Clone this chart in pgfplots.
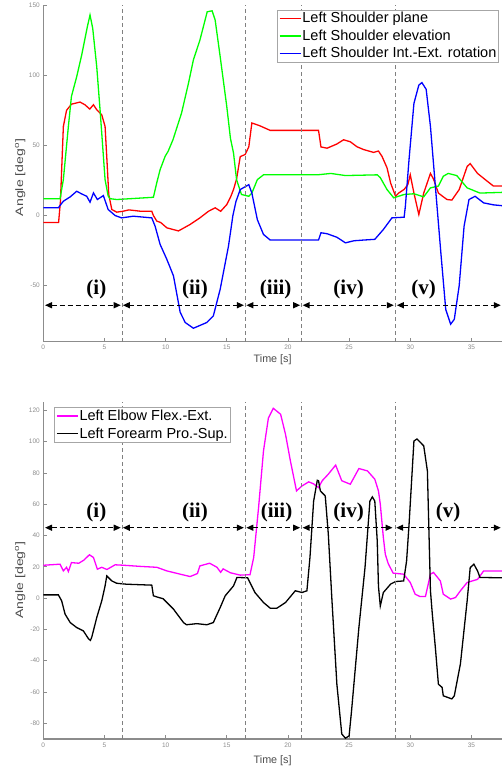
\documentclass[border=0pt]{standalone}
\usepackage{fontspec}
\setmainfont{Liberation Sans}
\newfontfamily\tnr{Liberation Serif}
\usepackage{pgfplots}
\pgfplotsset{compat=1.18}
\usetikzlibrary{arrows.meta}
\definecolor{axgray}{gray}{0.55}
\definecolor{labgray}{gray}{0.3}
\definecolor{divgray}{gray}{0.5}
\definecolor{lred}{rgb}{1,0,0}
\definecolor{lgreen}{rgb}{0,1,0}
\definecolor{lblue}{rgb}{0,0,1}
\definecolor{lmag}{rgb}{1,0,1}

\pgfplotsset{
  armstyle/.style={
    scale only axis, width=458.7pt, height=336.5pt,
    xmin=0, xmax=37.5, clip=false,
    axis x line*=bottom, axis y line*=left,
    axis line style={axgray, line width=1.2pt},
    tick style={axgray, line width=0.8pt},
    tick align=inside, major tick length=4pt,
    xtick={0,5,...,35},
    ticklabel style={font=\fontsize{6.5}{7}\selectfont, text=axgray},
    /pgf/number format/assume math mode=true,
    xlabel={Time [s]}, ylabel={Angle [deg\textsuperscript{o}]},
    label style={font=\fontsize{10.8}{12}\selectfont, text=labgray},
    legend style={draw=gray!70, line width=0.8pt, inner sep=1.5pt,
      font=\fontsize{14.5}{17}\selectfont, nodes={inner sep=1pt},
      row sep=3.5pt},
    legend cell align=left,
    legend image code/.code={\draw[##1] (0pt,0pt) -- (21pt,0pt);},
    every axis plot/.append style={line width=1.3pt},
  },
}
\tikzset{
  divline/.style={divgray, line width=0.9pt, dash pattern=on 4pt off 3pt},
  sect/.style={black, line width=1.3pt, dash pattern=on 5pt off 3pt,
    {Triangle[length=7pt,width=6pt]}-{Triangle[length=7pt,width=6pt]}},
  seclab/.style={font=\tnr\bfseries\fontsize{21}{24}\selectfont},
}

\begin{document}
\begin{tikzpicture}
% upper: shoulder
\begin{axis}[armstyle, at={(43.3pt,428.3pt)}, anchor=south west,
  ymin=-90, ymax=150, ytick={-50,0,50,100,150},
  xlabel style={at={(axis description cs:0.5,0)}, anchor=center, yshift=-18pt},
  ylabel style={at={(axis description cs:0,0.488)}, anchor=center, yshift=23pt, xscale=1.3},
  legend style={at={(0.994,0.987)}, anchor=north east}]
\addplot[lred] coordinates {
(0,-5) (1.25,-5) (1.4,10) (1.64,63.5) (1.9,75) (2.3,79.4) (3.0,80.9) (3.4,79)
(3.8,75.9) (4.1,79) (4.37,75.4) (4.78,71.8) (5.05,63.5) (5.2,40) (5.35,15)
(5.6,4.3) (6.0,2.4) (6.5,3) (7,4) (8,3) (8.87,3) (9.0,0) (9.28,-4) (9.6,-5)
(10.1,-8.8) (11.05,-11) (12,-6.4) (12.8,-1.7) (13.5,3) (14.05,5.5) (14.5,3)
(15,7.8) (15.3,13) (15.55,18.5) (15.8,26) (16.1,42) (16.5,43.5) (16.8,49)
(17.05,66) (17.7,64) (18.55,60.7) (22.5,60.7) (22.7,48.9) (23.2,48) (24,51)
(24.55,54) (25.1,52.6) (25.65,49) (26.2,47) (27,45) (27.4,46) (27.7,42)
(28.1,34) (28.4,23) (28.8,13.7) (29.05,16) (29.5,18.6) (29.8,22) (30,29)
(30.3,16) (30.7,0.7) (31.1,16) (31.65,30) (31.9,26) (32.3,16) (32.6,14)
(33,11.4) (33.4,11) (34,18.5) (34.65,35) (34.9,37) (35.5,30) (36.3,24.4)
(36.8,21) (37.5,21)};
\addlegendentry{Left Shoulder plane}
\addplot[lgreen] coordinates {
(0,12) (1.37,12) (1.64,25.6) (2.05,63.5) (2.3,84.9) (2.73,99) (3.14,114.5)
(3.6,134.6) (3.82,143) (4.04,133.5) (4.37,106) (4.64,75.4) (5.05,25.6)
(5.3,14) (5.46,12) (6,11.4) (9.0,13) (9.28,23.5) (9.55,32.7) (9.96,42.2)
(10.2,45.7) (10.6,54) (11.3,73) (11.87,94.4) (12.27,111) (12.8,125)
(13.4,145.3) (13.8,146) (14.05,139.4) (14.46,113.3) (15.0,77.7) (15.3,55)
(15.55,44.6) (15.8,25.6) (16.2,15) (16.8,13.7) (17.05,16) (17.5,25.6) (18,29)
(22.4,29) (23.5,30) (24.7,28.5) (27.3,29) (27.55,27) (28.1,18.5) (28.65,12.6)
(29.5,15) (30.3,15.5) (31.1,13.3) (31.65,19.7) (32.3,21) (32.7,28) (33.1,30)
(33.8,28.5) (34.65,19.7) (35.7,16) (37.5,16.5)};
\addlegendentry{Left Shoulder elevation}
\addplot[lblue] coordinates {
(0,5.5) (1.23,5.5) (1.64,10.2) (2.2,13.3) (2.73,17.3) (3.14,15.4) (3.55,13.7)
(3.82,9.5) (4.1,16.1) (4.42,11.4) (4.91,14.2) (5.3,4.3) (5.87,0) (6.4,-1.7)
(7.36,-0.5) (8.87,-1.7) (9.14,-7.6) (9.55,-20.6) (10.1,-31.3) (10.64,-43)
(11.19,-69) (11.6,-76.3) (12.27,-80.4) (13.37,-76.3) (13.9,-71.6)
(14.46,-52.6) (15.14,-21.8) (15.5,0) (15.75,10) (16.1,18.5) (16.8,22)
(17.05,16) (17.5,-3) (18,-13.5) (18.55,-17.5) (22.5,-17.5) (22.7,-12.3)
(23.2,-13) (24,-15.5) (24.7,-19.5) (25.4,-18) (26.2,-17.5) (27.1,-17)
(27.8,-10) (28.5,-1.7) (29.5,-1.2) (29.6,6.6) (29.9,40) (30.3,80) (30.7,93)
(30.95,94.8) (31.3,90) (31.65,63.5) (32.05,21) (32.5,-26.5) (32.9,-67)
(33.3,-77.5) (33.6,-74) (34,-50) (34.4,-7.6) (34.8,11.4) (35.3,13.7) (36,9)
(36.8,7.6) (37.5,7)};
\addlegendentry{Left Shoulder Int.-Ext. rotation}
\draw[divline] (axis cs:6.44,-90) -- (axis cs:6.44,150);
\draw[divline] (axis cs:16.5,-90) -- (axis cs:16.5,150);
\draw[divline] (axis cs:21.1,-90) -- (axis cs:21.1,150);
\draw[divline] (axis cs:28.8,-90) -- (axis cs:28.8,150);
\draw[sect] (axis cs:0.14,-64) -- (axis cs:6.33,-64);
\draw[sect] (axis cs:6.5,-64) -- (axis cs:16.4,-64);
\draw[sect] (axis cs:16.6,-64) -- (axis cs:21.0,-64);
\draw[sect] (axis cs:21.2,-64) -- (axis cs:28.65,-64);
\draw[sect] (axis cs:28.9,-64) -- (axis cs:37.4,-64);
\node[seclab] at (axis cs:4.34,-53) {(i)};
\node[seclab] at (axis cs:12.4,-53) {(ii)};
\node[seclab] at (axis cs:19.0,-53) {(iii)};
\node[seclab] at (axis cs:24.96,-53) {(iv)};
\node[seclab] at (axis cs:31.1,-53) {(v)};
\end{axis}

% lower: elbow and forearm
\begin{axis}[armstyle, at={(43.3pt,31pt)}, anchor=south west,
  ymin=-90, ymax=125, ytick={-80,-60,...,120},
  xlabel style={at={(axis description cs:0.5,0)}, anchor=center, yshift=-22pt},
  ylabel style={at={(axis description cs:0,0.473)}, anchor=center, yshift=23pt, xscale=1.3},
  legend style={at={(0.024,0.986)}, anchor=north west}]
\addplot[lmag] coordinates {
(0,21) (1.37,21.7) (1.64,17.4) (1.9,19.7) (2.05,17) (2.3,22.7) (2.9,22.3)
(3.3,24.2) (3.77,27.7) (4.1,26) (4.42,18.5) (4.78,19.7) (5.2,18.3) (5.87,21.3)
(6.6,21) (7.9,20.3) (9.28,19.7) (10.1,17.4) (11.2,15.3) (12,13.8) (12.6,15.7)
(12.8,20.6) (13.6,22.3) (14.2,19.7) (14.5,16.5) (14.7,18.7) (15.3,16.2)
(16.1,14.7) (16.9,15) (17.2,26) (17.6,58) (18,94) (18.4,115) (18.8,121.3)
(19.4,117.5) (19.8,104.7) (20.2,87.7) (20.7,68.5) (21.15,71.7) (21.7,74.3)
(22.1,73) (22.5,70.6) (22.8,75) (23.3,79.2) (23.9,85) (24.4,75) (25.1,72.8)
(25.8,82.8) (26.5,81.3) (27.1,76) (27.4,68.5) (27.55,60) (27.8,38.7)
(27.96,28) (28.2,22) (28.6,16) (29.46,15.3) (30,10) (30.4,2.5) (30.8,1)
(31.24,1) (31.65,15.3) (31.9,16.4) (32.46,11) (32.7,2.5) (33.3,-0.6)
(33.7,0.4) (34.1,4.7) (34.65,10) (35.5,12) (36,17.4) (37.5,17.4)};
\addlegendentry{Left Elbow Flex.-Ext.}
\addplot[black] coordinates {
(0,2.1) (1.23,2.1) (1.5,-1.7) (1.78,-10.2) (2.2,-15.6) (2.73,-18.8)
(3.27,-20.9) (3.7,-26) (3.85,-27) (3.96,-25) (4.37,-12.4) (4.78,-1.7)
(5.05,7.8) (5.19,14.2) (5.6,11) (6,9.5) (6.8,8.9) (8.87,8.3) (9,1.5) (9.4,0.5)
(9.8,-0.4) (10.64,-7) (11.46,-15.6) (11.7,-17) (12.55,-16.3) (13.37,-17)
(13.9,-15.6) (14.46,-6) (14.87,1.5) (15.55,7.8) (15.83,13.2) (16.7,13)
(17.3,3.6) (18,-2.8) (18.55,-6.4) (19.1,-6.4) (19.8,-2.8) (20.6,4.7)
(21.15,3.6) (21.55,4.7) (21.8,26) (22.1,62) (22.4,75.3) (22.5,75) (22.65,68.5)
(23.05,65.3) (23.3,40.9) (23.6,-1.7) (24,-55) (24.4,-86.8) (24.7,-89.5)
(25,-88) (25.2,-72) (25.8,-18.8) (26.3,19.5) (26.7,62) (26.9,64.7) (27.1,62)
(27.3,36.6) (27.4,7.5) (27.55,-5) (27.8,3.6) (28.4,9) (28.8,10.6) (29.46,11)
(29.7,23.8) (29.9,47) (30.3,100.4) (30.55,101.7) (31.1,97.3) (31.4,81.3)
(31.65,4.7) (31.8,-10) (32.05,-31.5) (32.3,-55) (32.6,-57) (32.7,-62.4)
(33.4,-64.4) (33.6,-62.4) (34.1,-42) (34.65,-1.7) (34.9,19.5) (35.2,21.7)
(35.5,17.4) (35.7,13.2) (37.5,13)};
\addlegendentry{Left Forearm Pro.-Sup.}
\draw[divline] (axis cs:6.44,-90) -- (axis cs:6.44,125);
\draw[divline] (axis cs:16.5,-90) -- (axis cs:16.5,125);
\draw[divline] (axis cs:21.1,-90) -- (axis cs:21.1,125);
\draw[divline] (axis cs:28.8,-90) -- (axis cs:28.8,125);
\draw[sect] (axis cs:0.14,45) -- (axis cs:6.33,45);
\draw[sect] (axis cs:6.5,45) -- (axis cs:16.4,45);
\draw[sect] (axis cs:16.6,45) -- (axis cs:21.0,45);
\draw[sect] (axis cs:21.2,45) -- (axis cs:28.55,45);
\draw[sect] (axis cs:28.85,45) -- (axis cs:37.4,45);
\node[seclab] at (axis cs:4.34,55) {(i)};
\node[seclab] at (axis cs:12.4,55) {(ii)};
\node[seclab] at (axis cs:19.07,55) {(iii)};
\node[seclab] at (axis cs:24.96,55) {(iv)};
\node[seclab] at (axis cs:33.1,55) {(v)};
\end{axis}
\pgfresetboundingbox
\useasboundingbox (0,0) rectangle (502pt,770pt);
\end{tikzpicture}
\end{document}
